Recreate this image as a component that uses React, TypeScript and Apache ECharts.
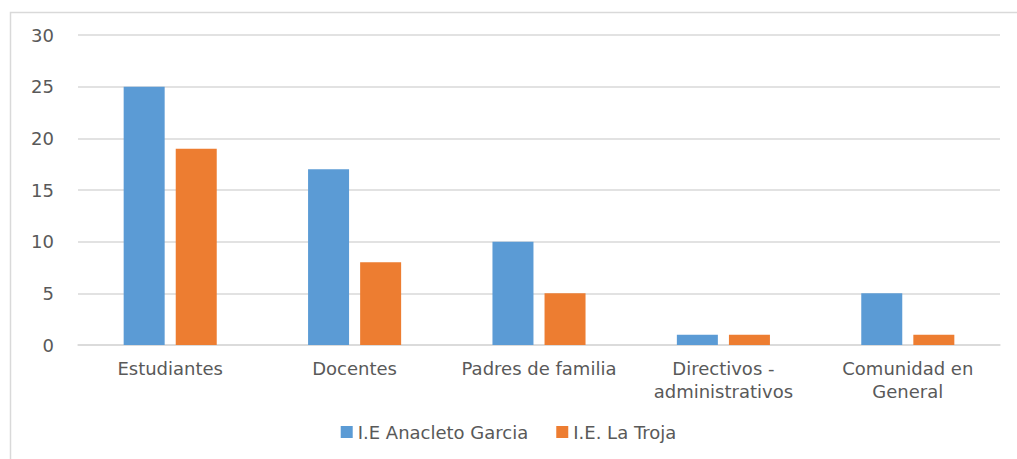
import React, { useEffect, useRef } from "react";
import * as echarts from "echarts";

const categories = ["Estudiantes", "Docentes", "Padres de familia", "Directivos -\nadministrativos", "Comunidad en\nGeneral"];
const seriesA = [25, 17, 10, 1, 5];
const seriesB = [19, 8, 5, 1, 1];
const seriesNames = ["I.E Anacleto Garcia", "I.E. La Troja"];

export default function App() {
  const ref = useRef<HTMLDivElement>(null);
  useEffect(() => {
    const chart = echarts.init(ref.current!, null, { renderer: "svg" });
    const font = "DejaVu Sans";
    chart.setOption({
      animation: false,
      backgroundColor: "#ffffff",
      textStyle: { fontFamily: font },
      graphic: [
        {
          type: "rect",
          shape: { x: 10.5, y: 12.5, width: 1020, height: 460 },
          style: { fill: "none", stroke: "#d9d9d9", lineWidth: 1.5 },
          silent: true,
        },
      ],
      grid: { left: 78, right: 17, top: 35, bottom: 114, containLabel: false },
      legend: {
        bottom: 13,
        left: "center",
        itemWidth: 12,
        itemHeight: 12,
        itemGap: 28,
        icon: "rect",
        textStyle: { color: "#595959", fontSize: 18, fontFamily: font },
        data: seriesNames,
      },
      xAxis: {
        type: "category",
        data: categories,
        axisTick: { show: false },
        axisLine: { lineStyle: { color: "#d9d9d9", width: 1.5 } },
        axisLabel: {
          color: "#595959",
          fontSize: 18,
          margin: 12,
          lineHeight: 23,
          fontFamily: font,
          interval: 0,
          hideOverlap: false,
        },
      },
      yAxis: {
        type: "value",
        min: 0,
        max: 30,
        interval: 5,
        axisLine: { show: false },
        axisTick: { show: false },
        splitLine: { lineStyle: { color: "#d9d9d9", width: 1.5 } },
        axisLabel: { color: "#595959", fontSize: 18, margin: 24, fontFamily: font },
      },
      series: [
        {
          name: seriesNames[0],
          type: "bar",
          data: seriesA,
          barWidth: 41,
          barGap: "27%",
          itemStyle: { color: "#5b9bd5" },
        },
        {
          name: seriesNames[1],
          type: "bar",
          data: seriesB,
          barWidth: 41,
          itemStyle: { color: "#ed7d31" },
        },
      ],
    });
    return () => chart.dispose();
  }, []);
  return <div ref={ref} style={{ position: "fixed", left: 0, top: 0, width: 1017, height: 459 }} />;
}
